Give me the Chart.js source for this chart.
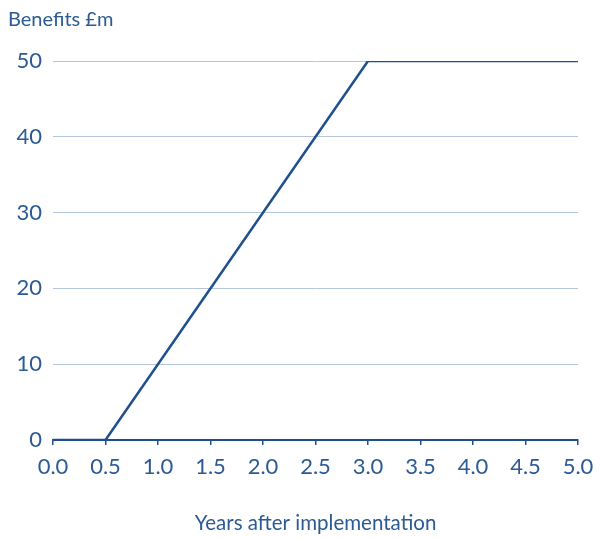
<!DOCTYPE html>
<html lang="en">
<head>
  <meta charset="UTF-8" />
  <title>Benefits over time</title>
  <script src="https://cdn.jsdelivr.net/npm/chart.js"></script>
  <style>
    body { margin: 0; background: #fff; }
    .wrap { width: 596px; height: 538px; position: relative; }
  </style>
</head>
<body>
<div class="wrap"><canvas id="chart"></canvas></div>
<script>
// data
const years = [0, 0.5, 3.0, 5.0];
const benefits = [0, 0, 50, 50];
const xTicks = [0, 0.5, 1, 1.5, 2, 2.5, 3, 3.5, 4, 4.5, 5];
const yTicks = [0, 10, 20, 30, 40, 50];

const lineBlue = '#1f4f8f';
const textBlue = '#2b5a94';
const gridBlue = '#b3c6dc';
const font = "Lato, 'Open Sans', sans-serif";

// y-axis caption sits top-left, above the plot
const captionPlugin = {
  id: 'caption',
  afterDraw(chart) {
    const ctx = chart.ctx;
    ctx.save();
    ctx.fillStyle = textBlue;
    ctx.font = "20px " + font;
    ctx.textBaseline = 'middle';
    ctx.textAlign = 'left';
    ctx.fillText('Benefits £m', 8, 20);
    ctx.restore();
  }
};

new Chart(document.getElementById('chart'), {
  type: 'line',
  data: {
    datasets: [{
      data: years.map((x, i) => ({ x: x, y: benefits[i] })),
      borderColor: lineBlue,
      borderWidth: 2.5,
      pointRadius: 0,
      tension: 0,
      fill: false
    }]
  },
  options: {
    responsive: true,
    maintainAspectRatio: false,
    animation: false,
    layout: { padding: { top: 61, right: 18, left: 0, bottom: 0 } },
    plugins: { legend: { display: false }, tooltip: { enabled: false } },
    scales: {
      x: {
        type: 'linear',
        min: 0,
        max: 5,
        afterBuildTicks(scale) {
          scale.ticks = xTicks.map(v => ({ value: v }));
        },
        afterFit(scale) {
          scale.height = 98;
          scale.paddingLeft = 0;
          scale.paddingRight = 0;
        },
        grid: { drawOnChartArea: false, drawTicks: true, tickLength: 5, color: lineBlue, lineWidth: 1.5 },
        border: { color: lineBlue, width: 2 },
        ticks: {
          color: textBlue,
          font: { family: font, size: 22 },
          padding: 9,
          maxRotation: 0,
          autoSkip: false,
          callback: v => Number(v).toFixed(1)
        },
        title: {
          display: true,
          text: 'Years after implementation',
          color: textBlue,
          font: { family: font, size: 20.5 },
          padding: { top: 30, bottom: 2 }
        }
      },
      y: {
        min: 0,
        max: 50,
        afterBuildTicks(scale) {
          scale.ticks = yTicks.map(v => ({ value: v }));
        },
        afterFit(scale) { scale.width = 53; },
        grid: { drawTicks: false, color: gridBlue, lineWidth: 1 },
        border: { display: false },
        ticks: {
          color: textBlue,
          font: { family: font, size: 22 },
          padding: 11
        }
      }
    }
  },
  plugins: [captionPlugin]
});
</script>
</body>
</html>
